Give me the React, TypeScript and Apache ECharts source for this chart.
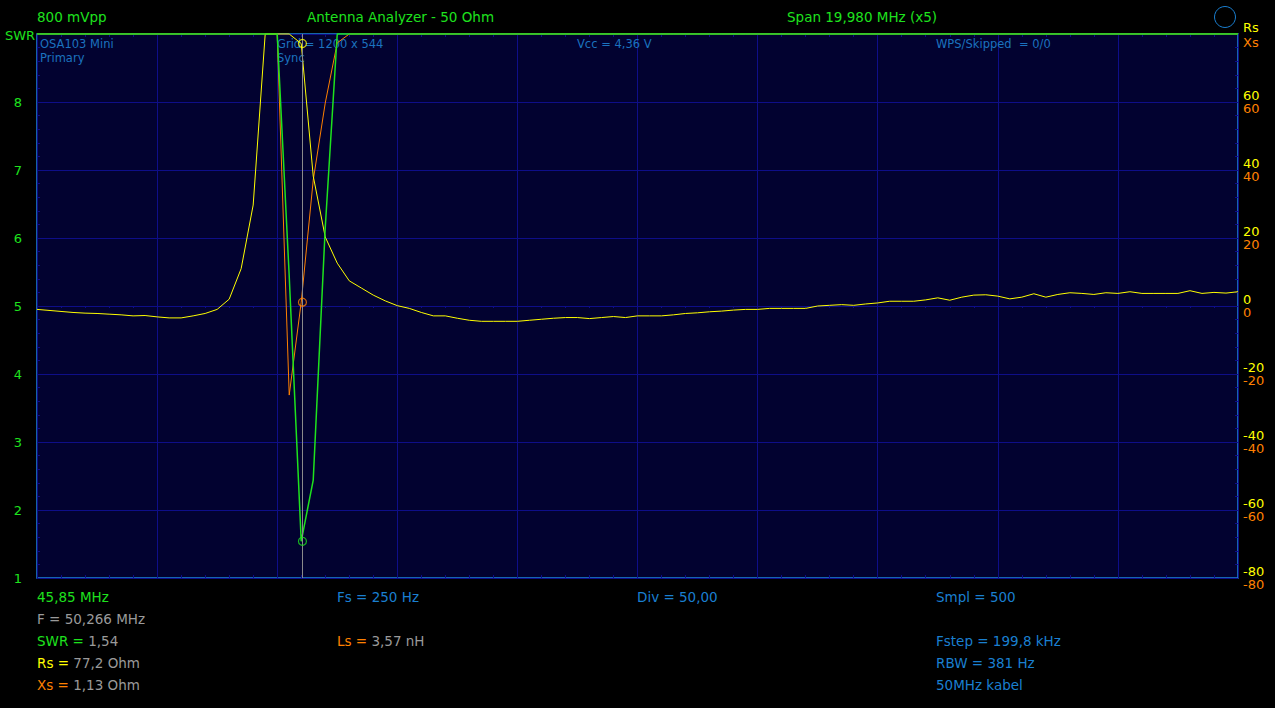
import React, { useEffect, useRef } from "react";
import * as echarts from "echarts";

// ---- data ----
const startMHz = 45.85;
const stepMHz = 0.1998; // Fstep = 199,8 kHz
const spanMHz = 19.98;
const markerMHz = 50.266;

// SWR per sweep step (off-scale values shown clamped at the top, 9)
const swrValues = [
  9, 9, 9, 9, 9, 9, 9, 9, 9, 9,
  9, 9, 9, 9, 9, 9, 9, 9, 9, 9,
  9, 5.44, 1.54, 2.44, 6.15, 9, 9, 9, 9, 9,
  9, 9, 9, 9, 9, 9, 9, 9, 9, 9,
  9, 9, 9, 9, 9, 9, 9, 9, 9, 9,
  9, 9, 9, 9, 9, 9, 9, 9, 9, 9,
  9, 9, 9, 9, 9, 9, 9, 9, 9, 9,
  9, 9, 9, 9, 9, 9, 9, 9, 9, 9,
  9, 9, 9, 9, 9, 9, 9, 9, 9, 9,
  9, 9, 9, 9, 9, 9, 9, 9, 9, 9,
  9,
];

// Rs (Ohm), right axis, clamped at 80
const rsValues = [
  -1.0, -1.3, -1.6, -1.9, -2.1, -2.2, -2.4, -2.6, -2.9, -2.8,
  -3.2, -3.5, -3.5, -2.9, -2.2, -1.0, 2.0, 11.0, 29.7, 80,
  80, 80, 77.2, 38.2, 20.3, 12.6, 7.4, 5.3, 3.2, 1.5,
  0.1, -0.7, -1.9, -2.9, -2.9, -3.6, -4.2, -4.5, -4.5, -4.5,
  -4.5, -4.2, -3.9, -3.6, -3.4, -3.4, -3.7, -3.4, -3.1, -3.4,
  -2.9, -2.9, -2.9, -2.6, -2.2, -2.0, -1.7, -1.5, -1.2, -1.0,
  -1.0, -0.7, -0.7, -0.7, -0.7, 0.0, 0.2, 0.4, 0.2, 0.6,
  0.9, 1.4, 1.4, 1.4, 1.8, 2.4, 1.7, 2.6, 3.2, 3.3,
  2.9, 2.1, 2.6, 3.6, 2.6, 3.4, 3.9, 3.7, 3.4, 3.9,
  3.7, 4.2, 3.7, 3.7, 3.7, 3.7, 4.5, 3.7, 4.0, 3.8,
  4.2,
];

// Xs (Ohm), right axis, clamped at 80
const xsValues = [
  80, 80, 80, 80, 80, 80, 80, 80, 80, 80,
  80, 80, 80, 80, 80, 80, 80, 80, 80, 80,
  80, -26.2, 1.13, 37, 59.7, 77.4, 80, 80, 80, 80,
  80, 80, 80, 80, 80, 80, 80, 80, 80, 80,
  80, 80, 80, 80, 80, 80, 80, 80, 80, 80,
  80, 80, 80, 80, 80, 80, 80, 80, 80, 80,
  80, 80, 80, 80, 80, 80, 80, 80, 80, 80,
  80, 80, 80, 80, 80, 80, 80, 80, 80, 80,
  80, 80, 80, 80, 80, 80, 80, 80, 80, 80,
  80, 80, 80, 80, 80, 80, 80, 80, 80, 80,
  80,
];

// marker readouts
const markerSwr = 1.54;
const markerRs = 77.2;
const markerXs = 1.13;
const markerLs = 3.57;

const swrTicks = [1, 2, 3, 4, 5, 6, 7, 8];
const reactTicks = [-80, -60, -40, -20, 0, 20, 40, 60];

// ---- styles ----
const FONT = "DejaVu Sans";
const GREEN = "#1ee21e";
const YELLOW = "#ffff00";
const ORANGE = "#ff8000";
const GREY = "#9a9a9a";
const BLUE = "#1a7fd0";
const BLUE_IN = "#1b72bf";
const GRIDC = "#0e0e88";
const FRAME = "#1c86dc";
const PLOTBG = "#020230";
const TXT = 13.5;

const fmt = (v: number, d: number) => v.toFixed(d).replace(".", ",");

export default function App() {
  const ref = useRef<HTMLDivElement>(null);

  useEffect(() => {
    if (!ref.current) return;
    const chart = echarts.init(ref.current, null, { renderer: "svg" });

    const nSteps = Math.round(spanMHz / stepMHz);
    const markerX = (markerMHz - startMHz) / stepMHz;
    const toPts = (arr: number[]) => arr.map((v, i) => [i, v]);

    const edgeX = (position: string, extra: any = {}) => ({
      type: "value",
      min: 0,
      max: nSteps,
      interval: 10,
      position,
      axisLine: { show: false, onZero: false },
      axisLabel: { show: false },
      axisTick: { show: true, inside: true, length: 3, lineStyle: { color: GRIDC } },
      minorTick: { show: true, splitNumber: 5, length: 3, lineStyle: { color: GRIDC } },
      splitLine: { show: false },
      ...extra,
    });

    const text = (x: number, y: number, t: string, fill: string, size = 13, rich?: any) => ({
      type: "text",
      z: 1,
      silent: true,
      style: {
        x,
        y,
        text: t,
        fill,
        fontFamily: FONT,
        fontSize: size,
        textVerticalAlign: "middle",
        verticalAlign: "middle",
        rich,
      },
    });

    const richDef = (c: string) => ({
      l: { fill: c, fontFamily: FONT, fontSize: TXT },
      v: { fill: GREY, fontFamily: FONT, fontSize: TXT },
    });

    const option: any = {
      animation: false,
      backgroundColor: "#000000",
      grid: {
        left: 37,
        top: 34,
        width: 1201,
        height: 544,
        show: true,
        backgroundColor: PLOTBG,
        borderColor: FRAME,
        borderWidth: 1.5,
      },
      xAxis: [
        edgeX("bottom", { splitLine: { show: true, lineStyle: { color: GRIDC, width: 1 } } }),
        edgeX("top"),
        {
          type: "value",
          min: 0,
          max: nSteps,
          interval: 10,
          position: "bottom",
          axisLine: { show: false, onZero: true, onZeroAxisIndex: 1 },
          axisLabel: { show: false },
          axisTick: { show: false },
          minorTick: { show: true, splitNumber: 5, length: 2, lineStyle: { color: GRIDC } },
          splitLine: { show: false },
        },
      ],
      yAxis: [
        {
          type: "value",
          position: "left",
          min: 1,
          max: 9,
          interval: 1,
          axisLine: { show: false, onZero: false },
          axisTick: { show: true, inside: true, length: 3, lineStyle: { color: GRIDC } },
          minorTick: { show: true, splitNumber: 5, length: 3, lineStyle: { color: GRIDC } },
          splitLine: { show: true, lineStyle: { color: GRIDC, width: 1 } },
          axisLabel: {
            color: GREEN,
            fontFamily: FONT,
            fontSize: 13,
            margin: 15,
            formatter: (v: number) => (swrTicks.includes(v) ? String(v) : ""),
          },
        },
        {
          type: "value",
          position: "right",
          min: -80,
          max: 80,
          interval: 20,
          axisLine: { show: false, onZero: false },
          axisTick: { show: true, inside: true, length: 3, lineStyle: { color: GRIDC } },
          minorTick: { show: true, splitNumber: 5, length: 3, lineStyle: { color: GRIDC } },
          splitLine: { show: false },
          axisLabel: {
            color: YELLOW,
            fontFamily: FONT,
            fontSize: 13,
            margin: 5,
            verticalAlign: "bottom",
            formatter: (v: number) => (reactTicks.includes(v) ? String(v) : ""),
          },
        },
        {
          type: "value",
          position: "right",
          min: -80,
          max: 80,
          interval: 20,
          axisLine: { show: false, onZero: false },
          axisTick: { show: false },
          splitLine: { show: false },
          axisLabel: {
            color: ORANGE,
            fontFamily: FONT,
            fontSize: 13,
            margin: 5,
            verticalAlign: "top",
            formatter: (v: number) => (reactTicks.includes(v) ? String(v) : ""),
          },
        },
      ],
      series: [
        {
          name: "Xs",
          type: "line",
          xAxisIndex: 0,
          yAxisIndex: 2,
          data: toPts(xsValues),
          showSymbol: false,
          clip: false,
          lineStyle: { color: ORANGE, width: 1 },
          z: 2,
          markLine: {
            silent: true,
            symbol: "none",
            label: { show: false },
            lineStyle: { color: "#8a8a8a", width: 1, type: "solid" },
            data: [{ xAxis: markerX }],
          },
        },
        {
          name: "Rs",
          type: "line",
          xAxisIndex: 0,
          yAxisIndex: 1,
          data: toPts(rsValues),
          showSymbol: false,
          clip: false,
          lineStyle: { color: YELLOW, width: 1 },
          z: 3,
        },
        {
          name: "SWR",
          type: "line",
          xAxisIndex: 0,
          yAxisIndex: 0,
          data: toPts(swrValues),
          showSymbol: false,
          clip: false,
          lineStyle: { color: GREEN, width: 1.5 },
          z: 4,
        },
        {
          type: "scatter",
          xAxisIndex: 0,
          yAxisIndex: 0,
          data: [[markerX, markerSwr]],
          symbol: "circle",
          symbolSize: 8,
          itemStyle: { color: "rgba(0,0,0,0)", borderColor: GREEN, borderWidth: 1.2 },
          z: 5,
        },
        {
          type: "scatter",
          xAxisIndex: 0,
          yAxisIndex: 1,
          data: [[markerX, markerRs]],
          symbol: "circle",
          symbolSize: 8,
          itemStyle: { color: "rgba(0,0,0,0)", borderColor: YELLOW, borderWidth: 1.2 },
          z: 5,
        },
        {
          type: "scatter",
          xAxisIndex: 0,
          yAxisIndex: 2,
          data: [[markerX, markerXs]],
          symbol: "circle",
          symbolSize: 8,
          itemStyle: { color: "rgba(0,0,0,0)", borderColor: ORANGE, borderWidth: 1.2 },
          z: 5,
        },
      ],
      graphic: [
        // header
        text(37, 17, "800 mVpp", GREEN, TXT),
        text(307, 17, "Antenna Analyzer - 50 Ohm", GREEN, TXT),
        text(787, 17, `Span ${fmt(spanMHz, 3)} MHz (x5)`, GREEN, TXT),
        {
          type: "circle",
          z: 1,
          silent: true,
          shape: { cx: 1225, cy: 17, r: 10.5 },
          style: { fill: "none", stroke: BLUE, lineWidth: 1 },
        },
        text(5, 35, "SWR", GREEN, 13),
        text(1243, 27, "Rs", YELLOW, 13),
        text(1243, 42, "Xs", ORANGE, 13),
        // inside the plot
        text(40, 44, "OSA103 Mini", BLUE_IN, 11.5),
        text(40, 58, "Primary", BLUE_IN, 11.5),
        text(277, 44, "Grid = 1200 x 544", BLUE_IN, 11.5),
        text(277, 58, "Sync", BLUE_IN, 11.5),
        text(577, 44, "Vcc = 4,36 V", BLUE_IN, 11.5),
        text(936, 44, "WPS/Skipped  = 0/0", BLUE_IN, 11.5),
        // readouts
        text(37, 597, `${fmt(startMHz, 2)} MHz`, GREEN, TXT),
        text(337, 597, "Fs = 250 Hz", BLUE, TXT),
        text(637, 597, "Div = 50,00", BLUE, TXT),
        text(936, 597, "Smpl = 500", BLUE, TXT),
        text(37, 619, `F = ${fmt(markerMHz, 3)} MHz`, GREY, TXT),
        text(37, 641, `{l|SWR =} {v|${fmt(markerSwr, 2)}}`, GREEN, TXT, richDef(GREEN)),
        text(337, 641, `{l|Ls =} {v|${fmt(markerLs, 2)} nH}`, ORANGE, TXT, richDef(ORANGE)),
        text(936, 641, `Fstep = ${fmt(stepMHz * 1000, 1)} kHz`, BLUE, TXT),
        text(37, 663, `{l|Rs =} {v|${fmt(markerRs, 1)} Ohm}`, YELLOW, TXT, richDef(YELLOW)),
        text(936, 663, "RBW = 381 Hz", BLUE, TXT),
        text(37, 685, `{l|Xs =} {v|${fmt(markerXs, 2)} Ohm}`, ORANGE, TXT, richDef(ORANGE)),
        text(936, 685, "50MHz kabel", BLUE, TXT),
      ],
    };

    chart.setOption(option);
    return () => chart.dispose();
  }, []);

  return (
    <div
      ref={ref}
      style={{ position: "fixed", left: 0, top: 0, width: 1275, height: 708, background: "#000" }}
    />
  );
}
